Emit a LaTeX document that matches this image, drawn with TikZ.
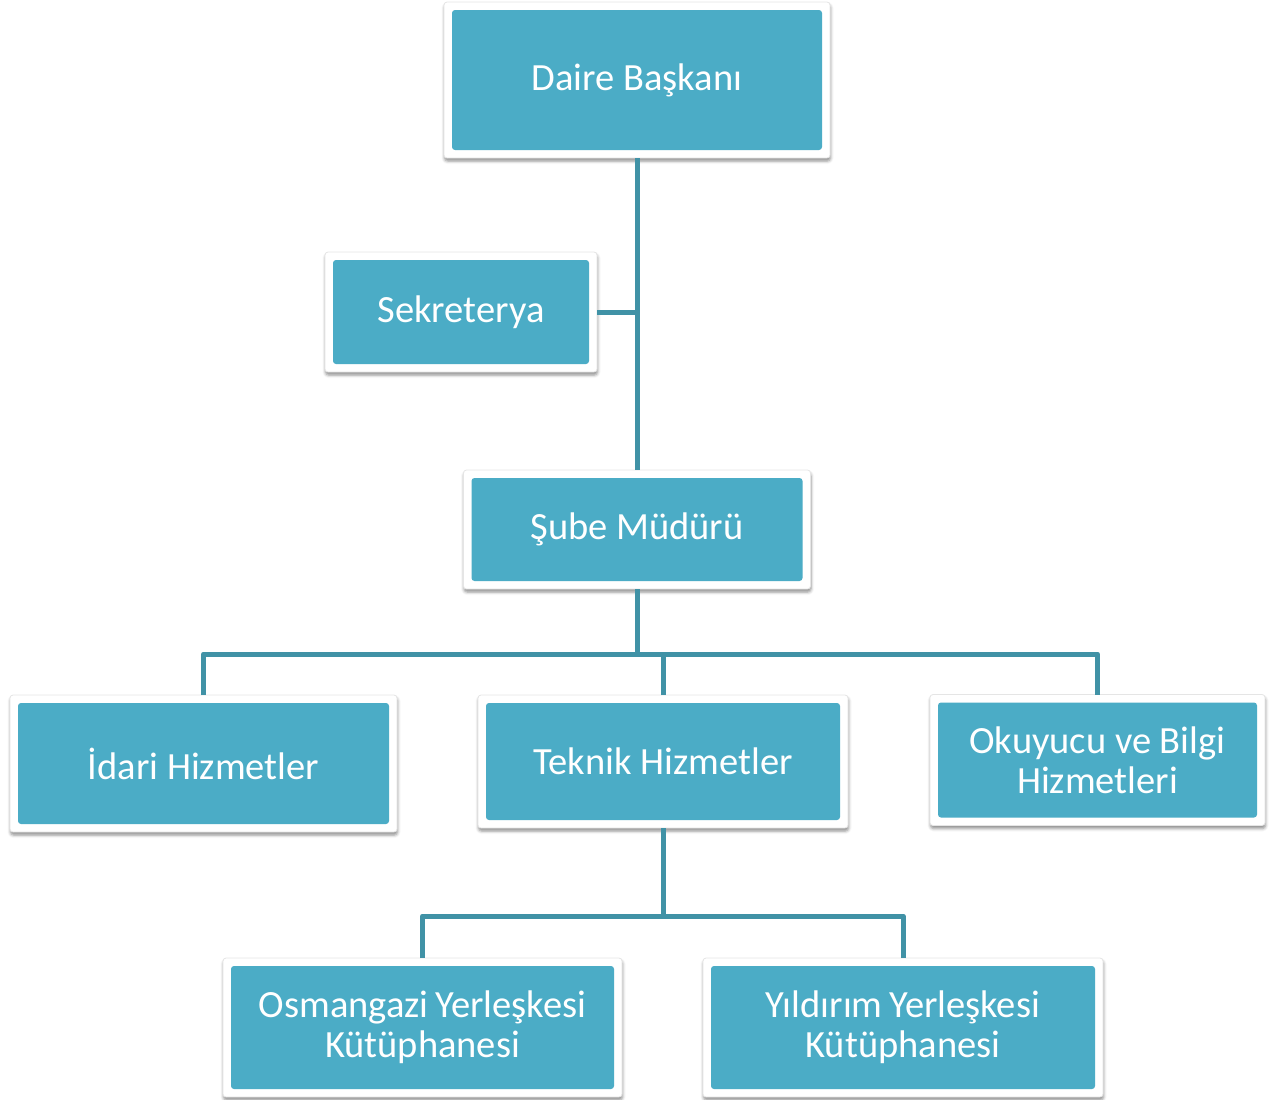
\documentclass[tikz,border=0pt]{standalone}
\usepackage{fontspec}
\setmainfont{Carlito}
\usetikzlibrary{shadows.blur,calc}
\definecolor{boxfill}{RGB}{75,172,198}
\definecolor{linecol}{RGB}{64,146,166}
\tikzset{
  orgbox/.style={rectangle, fill=white, draw=black!10, line width=0.8pt, rounded corners=3pt, inner sep=0pt, outer sep=0pt,
    blur shadow={shadow xshift=0.5pt, shadow yshift=-3pt, shadow blur radius=3pt, shadow opacity=45},
    path picture={\fill[boxfill] ([shift={(8pt,-8pt)}]path picture bounding box.north west) rectangle ([shift={(-8pt,8pt)}]path picture bounding box.south east);},
    text=white, align=center, font=\fontsize{38.5}{40}\selectfont},
  conn/.style={draw=linecol, line width=5pt, line join=round}
}
\begin{document}
\begin{tikzpicture}[x=1pt,y=-1pt]
\useasboundingbox (0,0) rectangle (1269,1100);
\node[orgbox, minimum width=386pt, minimum height=156pt] (d) at (637,80) {Daire Başkanı};
\node[orgbox, minimum width=272pt, minimum height=120pt] (sek) at (461,312) {Sekreterya};
\node[orgbox, minimum width=347pt, minimum height=119pt] (s) at (637,529.5) {Şube Müdürü};
\node[orgbox, minimum width=387pt, minimum height=137pt] (i) at (203.5,763.5) {İdari Hizmetler};
\node[orgbox, minimum width=370pt, minimum height=133pt] (t) at (663,761.5) {Teknik Hizmetler};
\node[orgbox, minimum width=335pt, minimum height=131pt] (o) at (1097.5,760) {Okuyucu ve Bilgi\\Hizmetleri};
\node[orgbox, minimum width=399pt, minimum height=139pt] (og) at (422.5,1027.5) {Osmangazi\,Yerleşkesi\\Kütüphanesi};
\node[orgbox, minimum width=400pt, minimum height=139pt] (y) at (903,1027.5) {Yıldırım\,Yerleşkesi\\Kütüphanesi};
\coordinate (b1) at (637,654);
\coordinate (b2) at (663,916);
\draw[conn] (d.south) -- (s.north);
\draw[conn] (sek.east) -- (sek.east -| d.south);
\draw[conn] (s.south) -- (b1);
\draw[conn] (i.north) |- (b1) -| (o.north);
\draw[conn] (t.north) -- (t.north |- b1);
\draw[conn] (t.south) -- (b2);
\draw[conn] (og.north) |- (b2) -| (y.north);
\end{tikzpicture}
\end{document}
